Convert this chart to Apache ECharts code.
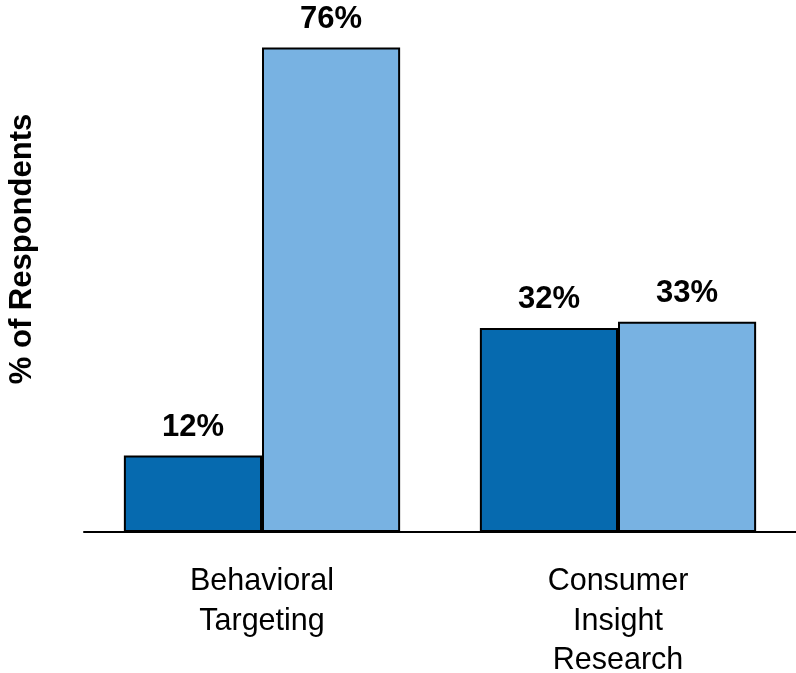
<!DOCTYPE html>
<html>
<head>
<meta charset="utf-8">
<script src="https://cdn.jsdelivr.net/npm/echarts@6/dist/echarts.min.js"></script>
<style>html,body{margin:0;padding:0;background:#fff;}#c{width:796px;height:673px;}</style>
</head>
<body>
<div id="c"></div>
<script>
const categories = ['Behavioral\nTargeting', 'Consumer\nInsight\nResearch'];
const seriesA = [12, 32];
const seriesB = [76, 33];
const yTitle = '% of Respondents';

const FONT = '"Liberation Sans", Arial, sans-serif';
const chart = echarts.init(document.getElementById('c'));
const labelCfg = {
  show: true, position: 'top', distance: 13,
  formatter: p => p.value + '%',
  fontFamily: FONT, fontSize: 31, fontWeight: 'bold', color: '#000'
};
chart.setOption({
  animation: false,
  grid: { left: 84, right: 0, top: 22, bottom: 141, containLabel: false, outerBoundsMode: 'none' },
  xAxis: {
    type: 'category', data: categories,
    axisLine: { lineStyle: { color: '#000', width: 2 } },
    axisTick: { show: false },
    axisLabel: { fontFamily: FONT, fontSize: 30.5, color: '#000', lineHeight: 39.5, margin: 30 }
  },
  yAxis: {
    type: 'value', min: 0, max: 80, show: false
  },
  graphic: [{
    type: 'text', x: 22, y: 249, rotation: Math.PI / 2,
    style: { text: yTitle, fontFamily: FONT, fontSize: 31, fontWeight: 'bold', fill: '#000', align: 'center', verticalAlign: 'middle' }
  }],
  series: [
    { type: 'bar', data: seriesA, barWidth: '38.8%', barGap: '0%',
      itemStyle: { color: '#066aaf', borderColor: '#000', borderWidth: 2 }, label: labelCfg },
    { type: 'bar', data: seriesB, barWidth: '38.8%', barGap: '0%',
      itemStyle: { color: '#78b2e2', borderColor: '#000', borderWidth: 2 }, label: labelCfg }
  ]
});
</script>
</body>
</html>
